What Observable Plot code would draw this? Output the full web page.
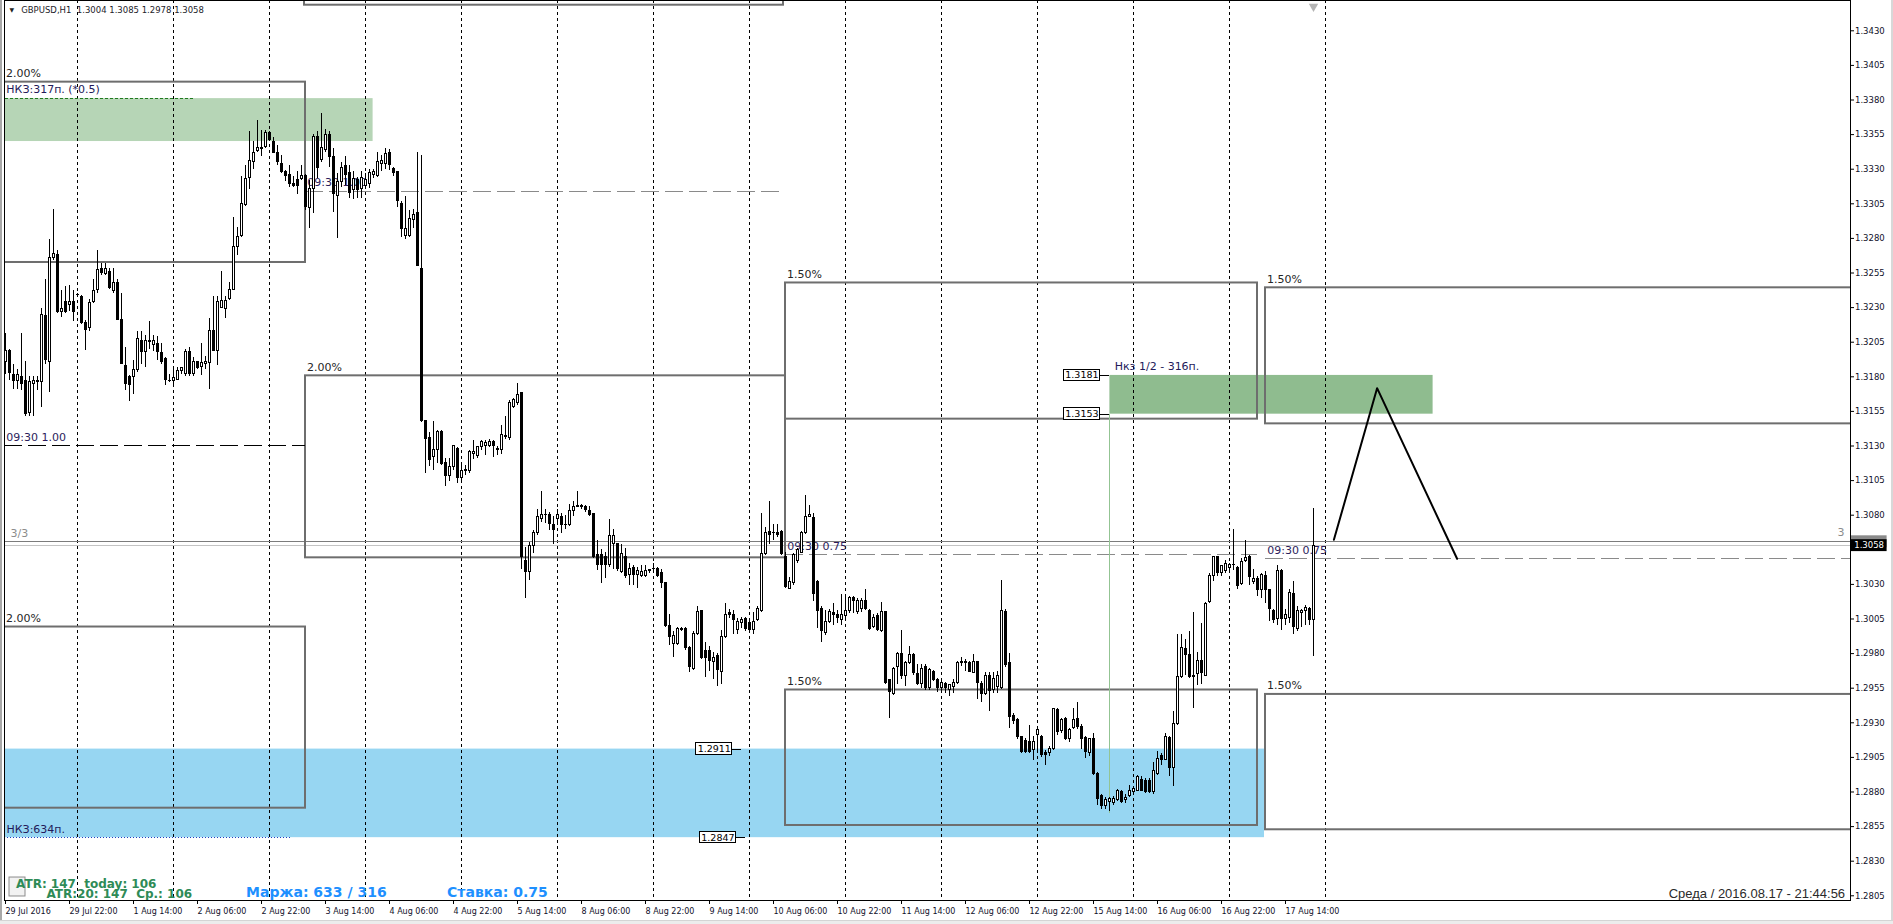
<!DOCTYPE html>
<html><head><meta charset="utf-8">
<script src="https://cdn.jsdelivr.net/npm/d3@7"></script>
<script src="https://cdn.jsdelivr.net/npm/@observablehq/plot@0.6"></script>
<style>
html,body{margin:0;padding:0;background:#fff;overflow:hidden}
#chart svg{display:block}
#edgeL{position:absolute;left:0;top:0;width:2px;height:920px;background:#a8a8a8}
#edgeR{position:absolute;right:0;top:0;width:2px;height:920px;background:#d8d8d8}
#strip{height:4px;background:#ececec;border-top:1px solid #d4d4d4}
</style>
</head><body>
<div id="chart"></div><div id="strip"></div><div id="edgeL"></div><div id="edgeR"></div>
<script>
// ---- GBPUSD H1 candles (bar 0 = 29 Jul 2016 06:00) ----
const opens = [
1.3191,1.3199,1.3181,1.3177,1.3180,1.3177,1.3154,1.3175,1.3176,1.3176,
1.3224,1.3191,1.3266,1.3268,1.3227,1.3234,1.3232,1.3234,1.3239,1.3238,
1.3219,1.3215,1.3234,1.3243,1.3258,1.3254,1.3256,1.3242,1.3248,1.3221,
1.3188,1.3180,1.3180,1.3185,1.3206,1.3198,1.3206,1.3203,1.3204,1.3197,
1.3193,1.3177,1.3177,1.3178,1.3184,1.3182,1.3198,1.3182,1.3191,1.3187,
1.3189,1.3190,1.3213,1.3199,1.3230,1.3229,1.3236,1.3243,1.3274,1.3282,
1.3304,1.3324,1.3335,1.3343,1.3345,1.3346,1.3356,1.3350,1.3342,1.3334,
1.3328,1.3326,1.3319,1.3322,1.3323,1.3325,1.3302,1.3316,1.3353,1.3337,
1.3344,1.3355,1.3339,1.3311,1.3321,1.3332,1.3327,1.3315,1.3322,1.3316,
1.3318,1.3319,1.3326,1.3325,1.3334,1.3334,1.3342,1.3330,1.3328,1.3305,
1.3282,1.3282,1.3293,1.3298,1.3258,1.3148,1.3136,1.3122,1.3127,1.3140,
1.3118,1.3108,1.3115,1.3128,1.3107,1.3112,1.3112,1.3124,1.3123,1.3129,
1.3130,1.3130,1.3133,1.3128,1.3127,1.3137,1.3136,1.3158,1.3161,1.3168,
1.3047,1.3039,1.3058,1.3067,1.3077,1.3080,1.3080,1.3073,1.3077,1.3079,
1.3073,1.3073,1.3083,1.3086,1.3087,1.3086,1.3083,1.3081,1.3051,1.3051,
1.3050,1.3044,1.3059,1.3059,1.3039,1.3050,1.3037,1.3042,1.3037,1.3036,
1.3036,1.3040,1.3041,1.3041,1.3038,1.3031,1.3000,1.2987,1.2987,1.2998,
1.2998,1.2984,1.2969,1.2994,1.3011,1.2982,1.2982,1.2974,1.2978,1.2967,
1.2992,1.3009,1.3008,1.2997,1.3002,1.3005,1.3002,1.2997,1.3004,1.3011,
1.3052,1.3068,1.3067,1.3067,1.3068,1.3050,1.3027,1.3031,1.3047,1.3053,
1.3067,1.3079,1.3078,1.3032,1.3012,1.2995,1.3003,1.3009,1.3008,1.3004,
1.3007,1.3011,1.3020,1.3010,1.3012,1.3018,1.3011,1.2999,1.3007,1.2996,
1.3010,1.2961,1.2951,1.2970,1.2980,1.2964,1.2973,1.2979,1.2965,1.2958,
1.2970,1.2955,1.2967,1.2961,1.2955,1.2958,1.2954,1.2956,1.2959,1.2973,
1.2973,1.2973,1.2966,1.2974,1.2958,1.2951,1.2964,1.2954,1.2956,1.2955,
1.3010,1.2973,1.2935,1.2932,1.2920,1.2917,1.2916,1.2910,1.2921,1.2920,
1.2908,1.2908,1.2911,1.2939,1.2924,1.2933,1.2918,1.2926,1.2933,1.2927,
1.2919,1.2908,1.2918,1.2893,1.2877,1.2870,1.2873,1.2872,1.2874,1.2880,
1.2874,1.2877,1.2880,1.2881,1.2889,1.2888,1.2888,1.2880,1.2893,1.2906,
1.2903,1.2919,1.2897,1.2929,1.2963,1.2983,1.2979,1.2963,1.2965,1.2975,
1.2964,1.3017,1.3036,1.3050,1.3038,1.3040,1.3042,1.3044,1.3042,1.3030,
1.3047,1.3050,1.3032,1.3034,1.3026,1.3036,1.3026,1.3011,1.3005,1.3040,
1.3005,1.3006,1.3023,1.2998,1.3009,1.3011,1.3012,1.3004];
const highs = [
1.3211,1.3200,1.3189,1.3185,1.3211,1.3191,1.3180,1.3180,1.3180,1.3229,
1.3250,1.3279,1.3301,1.3271,1.3242,1.3245,1.3246,1.3242,1.3240,1.3239,
1.3221,1.3236,1.3250,1.3271,1.3262,1.3262,1.3258,1.3258,1.3250,1.3240,
1.3201,1.3181,1.3192,1.3213,1.3213,1.3210,1.3220,1.3210,1.3209,1.3204,
1.3194,1.3182,1.3185,1.3187,1.3187,1.3200,1.3201,1.3194,1.3191,1.3204,
1.3195,1.3222,1.3238,1.3238,1.3256,1.3238,1.3248,1.3295,1.3288,1.3325,
1.3333,1.3357,1.3350,1.3365,1.3358,1.3358,1.3357,1.3353,1.3347,1.3340,
1.3329,1.3333,1.3325,1.3328,1.3333,1.3326,1.3322,1.3355,1.3357,1.3370,
1.3359,1.3357,1.3345,1.3327,1.3335,1.3339,1.3333,1.3328,1.3324,1.3328,
1.3327,1.3330,1.3330,1.3342,1.3340,1.3345,1.3344,1.3331,1.3328,1.3307,
1.3310,1.3300,1.3301,1.3342,1.3340,1.3148,1.3140,1.3148,1.3141,1.3141,
1.3121,1.3121,1.3130,1.3129,1.3117,1.3116,1.3127,1.3134,1.3130,1.3134,
1.3134,1.3135,1.3134,1.3130,1.3145,1.3151,1.3163,1.3164,1.3175,1.3168,
1.3057,1.3060,1.3069,1.3084,1.3097,1.3084,1.3082,1.3079,1.3084,1.3081,
1.3080,1.3088,1.3090,1.3097,1.3088,1.3087,1.3086,1.3081,1.3062,1.3055,
1.3053,1.3077,1.3070,1.3059,1.3059,1.3056,1.3045,1.3044,1.3042,1.3044,
1.3044,1.3041,1.3045,1.3042,1.3041,1.3031,1.3008,1.2996,1.2999,1.2999,
1.2999,1.2985,1.2996,1.3014,1.3011,1.2988,1.2985,1.2981,1.2980,1.2997,
1.3016,1.3012,1.3011,1.3005,1.3006,1.3006,1.3005,1.3010,1.3014,1.3081,
1.3071,1.3090,1.3073,1.3073,1.3069,1.3053,1.3035,1.3052,1.3056,1.3068,
1.3094,1.3087,1.3081,1.3033,1.3014,1.3011,1.3012,1.3016,1.3011,1.3023,
1.3023,1.3021,1.3021,1.3020,1.3020,1.3026,1.3012,1.3008,1.3009,1.3017,
1.3010,1.2961,1.2970,1.2981,1.2997,1.2974,1.2985,1.2980,1.2972,1.2972,
1.2972,1.2969,1.2968,1.2962,1.2960,1.2959,1.2957,1.2961,1.2974,1.2977,
1.2976,1.2974,1.2979,1.2974,1.2960,1.2966,1.2966,1.2966,1.2967,1.3033,
1.3012,1.2980,1.2937,1.2933,1.2920,1.2919,1.2928,1.2920,1.2925,1.2921,
1.2910,1.2913,1.2940,1.2940,1.2933,1.2934,1.2926,1.2940,1.2945,1.2929,
1.2920,1.2919,1.2922,1.2894,1.2878,1.2876,1.2876,1.2877,1.2882,1.2881,
1.2878,1.2885,1.2884,1.2892,1.2891,1.2890,1.2890,1.2901,1.2909,1.2908,
1.2922,1.2920,1.2938,1.2994,1.2994,1.2990,1.2996,1.3010,1.2981,1.3002,
1.3017,1.3038,1.3050,1.3050,1.3044,1.3047,1.3045,1.3070,1.3043,1.3049,
1.3062,1.3051,1.3041,1.3036,1.3038,1.3039,1.3026,1.3012,1.3044,1.3041,
1.3012,1.3026,1.3032,1.3014,1.3012,1.3015,1.3013,1.3085];
const lows = [
1.3182,1.3177,1.3171,1.3171,1.3170,1.3151,1.3151,1.3151,1.3170,1.3158,
1.3189,1.3169,1.3264,1.3226,1.3223,1.3226,1.3227,1.3220,1.3237,1.3218,
1.3199,1.3213,1.3233,1.3240,1.3253,1.3253,1.3243,1.3240,1.3221,1.3189,
1.3170,1.3162,1.3167,1.3183,1.3189,1.3187,1.3200,1.3198,1.3192,1.3189,
1.3174,1.3176,1.3173,1.3177,1.3182,1.3180,1.3180,1.3180,1.3185,1.3181,
1.3185,1.3171,1.3198,1.3188,1.3229,1.3222,1.3235,1.3242,1.3268,1.3281,
1.3303,1.3315,1.3330,1.3342,1.3339,1.3345,1.3351,1.3341,1.3333,1.3327,
1.3321,1.3317,1.3317,1.3312,1.3322,1.3300,1.3287,1.3298,1.3323,1.3335,
1.3342,1.3331,1.3299,1.3280,1.3317,1.3318,1.3309,1.3308,1.3309,1.3309,
1.3317,1.3316,1.3323,1.3324,1.3328,1.3330,1.3329,1.3325,1.3302,1.3281,
1.3279,1.3281,1.3287,1.3260,1.3147,1.3110,1.3115,1.3112,1.3117,1.3116,
1.3101,1.3104,1.3112,1.3103,1.3103,1.3109,1.3110,1.3120,1.3121,1.3127,
1.3123,1.3129,1.3122,1.3123,1.3124,1.3135,1.3134,1.3157,1.3159,1.3041,
1.3020,1.3033,1.3052,1.3065,1.3075,1.3074,1.3069,1.3059,1.3074,1.3067,
1.3070,1.3072,1.3079,1.3086,1.3084,1.3082,1.3079,1.3049,1.3040,1.3031,
1.3034,1.3042,1.3041,1.3039,1.3038,1.3034,1.3029,1.3029,1.3027,1.3035,
1.3035,1.3038,1.3040,1.3035,1.3027,1.2999,1.2986,1.2977,1.2986,1.2996,
1.2982,1.2966,1.2968,1.2993,1.2976,1.2963,1.2967,1.2961,1.2956,1.2958,
1.2991,1.3005,1.2994,1.2994,1.2998,1.2996,1.2996,1.2994,1.3003,1.3010,
1.3051,1.3059,1.3062,1.3064,1.3051,1.3027,1.3026,1.3029,1.3045,1.3052,
1.3066,1.3078,1.3018,1.2998,1.2988,1.2993,1.3002,1.3000,1.3002,1.3000,
1.3003,1.3009,1.3009,1.3008,1.3010,1.3011,1.2997,1.2998,1.2996,1.2995,
1.2958,1.2933,1.2950,1.2958,1.2961,1.2956,1.2972,1.2964,1.2957,1.2955,
1.2953,1.2953,1.2960,1.2952,1.2951,1.2951,1.2949,1.2951,1.2958,1.2971,
1.2967,1.2966,1.2966,1.2947,1.2945,1.2950,1.2938,1.2951,1.2951,1.2954,
1.2970,1.2926,1.2929,1.2918,1.2908,1.2908,1.2908,1.2903,1.2908,1.2905,
1.2899,1.2906,1.2910,1.2921,1.2922,1.2917,1.2916,1.2925,1.2925,1.2911,
1.2904,1.2906,1.2892,1.2870,1.2867,1.2867,1.2866,1.2870,1.2873,1.2872,
1.2872,1.2876,1.2879,1.2880,1.2880,1.2879,1.2879,1.2878,1.2892,1.2899,
1.2903,1.2891,1.2884,1.2928,1.2962,1.2964,1.2962,1.2940,1.2957,1.2958,
1.2964,1.3016,1.3032,1.3036,1.3036,1.3038,1.3040,1.3040,1.3026,1.3029,
1.3046,1.3029,1.3030,1.3021,1.3020,1.3016,1.3003,1.3002,1.3000,1.2997,
1.3000,1.3002,1.2994,1.2996,1.2999,1.3000,1.3000,1.2978];
const closes = [
1.3199,1.3183,1.3177,1.3181,1.3175,1.3153,1.3176,1.3177,1.3177,1.3225,
1.3192,1.3266,1.3269,1.3227,1.3229,1.3227,1.3234,1.3227,1.3239,1.3219,
1.3214,1.3233,1.3242,1.3257,1.3255,1.3258,1.3244,1.3248,1.3221,1.3189,
1.3175,1.3174,1.3185,1.3207,1.3198,1.3206,1.3205,1.3206,1.3198,1.3191,
1.3178,1.3177,1.3179,1.3184,1.3186,1.3198,1.3182,1.3191,1.3186,1.3190,
1.3191,1.3213,1.3199,1.3234,1.3235,1.3235,1.3243,1.3274,1.3281,1.3305,
1.3323,1.3336,1.3342,1.3345,1.3345,1.3356,1.3351,1.3342,1.3335,1.3328,
1.3325,1.3319,1.3318,1.3318,1.3325,1.3303,1.3316,1.3353,1.3331,1.3345,
1.3355,1.3339,1.3312,1.3321,1.3331,1.3326,1.3313,1.3323,1.3315,1.3324,
1.3322,1.3327,1.3328,1.3335,1.3336,1.3341,1.3333,1.3327,1.3307,1.3287,
1.3287,1.3294,1.3297,1.3260,1.3148,1.3135,1.3120,1.3127,1.3140,1.3117,
1.3108,1.3115,1.3130,1.3107,1.3112,1.3113,1.3126,1.3126,1.3129,1.3133,
1.3132,1.3133,1.3130,1.3127,1.3138,1.3137,1.3161,1.3163,1.3167,1.3050,
1.3039,1.3058,1.3067,1.3079,1.3080,1.3080,1.3074,1.3069,1.3080,1.3073,
1.3073,1.3083,1.3086,1.3087,1.3086,1.3084,1.3080,1.3050,1.3044,1.3044,
1.3044,1.3065,1.3065,1.3041,1.3052,1.3036,1.3041,1.3037,1.3040,1.3039,
1.3040,1.3040,1.3041,1.3036,1.3031,1.3000,1.2992,1.2993,1.2998,1.2997,
1.2984,1.2970,1.2994,1.3010,1.2977,1.2977,1.2975,1.2977,1.2968,1.2992,
1.3008,1.3008,1.3004,1.3003,1.3004,1.2998,1.2997,1.3003,1.3012,1.3052,
1.3067,1.3066,1.3067,1.3066,1.3052,1.3028,1.3032,1.3051,1.3055,1.3067,
1.3079,1.3080,1.3023,1.3011,1.2996,1.3003,1.3010,1.3008,1.3006,1.3008,
1.3011,1.3020,1.3018,1.3018,1.3018,1.3012,1.2998,1.3006,1.2997,1.3010,
1.2959,1.2952,1.2969,1.2980,1.2964,1.2973,1.2979,1.2966,1.2958,1.2969,
1.2955,1.2968,1.2961,1.2955,1.2959,1.2955,1.2957,1.2959,1.2973,1.2974,
1.2974,1.2967,1.2974,1.2959,1.2951,1.2964,1.2953,1.2962,1.2964,1.3011,
1.2972,1.2934,1.2931,1.2920,1.2909,1.2909,1.2909,1.2916,1.2925,1.2907,
1.2907,1.2911,1.2940,1.2923,1.2932,1.2918,1.2925,1.2932,1.2927,1.2918,
1.2909,1.2918,1.2893,1.2875,1.2870,1.2874,1.2875,1.2875,1.2881,1.2873,
1.2876,1.2881,1.2882,1.2891,1.2881,1.2880,1.2880,1.2895,1.2904,1.2903,
1.2920,1.2897,1.2929,1.2963,1.2984,1.2979,1.2963,1.2964,1.2975,1.2966,
1.3016,1.3036,1.3050,1.3038,1.3043,1.3045,1.3044,1.3044,1.3029,1.3046,
1.3049,1.3035,1.3034,1.3026,1.3037,1.3026,1.3012,1.3004,1.3040,1.3005,
1.3008,1.3024,1.2999,1.3011,1.3011,1.3013,1.3004,1.3058];

// time axis
const timeTickIdx = [0,16,32,48,64,80,96,112,128,144,160,176,192,208,224,240,256,272,288,304,320];
const timeLabels = ["29 Jul 2016","29 Jul 22:00","1 Aug 14:00","2 Aug 06:00","2 Aug 22:00","3 Aug 14:00","4 Aug 06:00","4 Aug 22:00","5 Aug 14:00","8 Aug 06:00","8 Aug 22:00","9 Aug 14:00","10 Aug 06:00","10 Aug 22:00","11 Aug 14:00","12 Aug 06:00","12 Aug 22:00","15 Aug 14:00","16 Aug 06:00","16 Aug 22:00","17 Aug 14:00"];
const daySeparators = [18,42,66,90,114,138,162,186,210,234,258,282,306,330];
// price axis (1.3055 sits under the current-price tag)
const priceTicks = [1.2805,1.2830,1.2855,1.2880,1.2905,1.2930,1.2955,1.2980,1.3005,1.3030,1.3055,1.3080,1.3105,1.3130,1.3155,1.3180,1.3205,1.3230,1.3255,1.3280,1.3305,1.3330,1.3355,1.3380,1.3405,1.3430];
const hiddenTick = 1.3055;
const priceDomain = [1.28016, 1.34519];
const barDomain = [-0.25, 461.25];

// session boxes (bar index / price)
const boxLabel = ["2.00%","2.00%","2.00%","1.50%","1.50%","1.50%","1.50%",""];
const boxStart = [-3, -3, 75, 195, 195, 315, 315, 74.75];
const boxEnd   = [75, 75, 195, 313, 313, 470, 470, 194.5];
const boxHigh  = [1.33929, 1.29992, 1.31807, 1.32478, 1.29537, 1.32443, 1.29505, 1.3480];
const boxLow   = [1.32626, 1.28683, 1.30492, 1.31494, 1.28558, 1.31460, 1.28527, 1.34485];

// zones
const zoneStart = [-3, 276.1, -3];
const zoneEnd   = [91.9, 356.9, 314.75];
const zoneHigh  = [1.3381, 1.3181, 1.2911];
const zoneLow   = [1.3350, 1.3153, 1.2847];

// 09:30 levels
const levelLabel = ["09:30 1.00","09:30 1.00","09:30 0.75","09:30 0.75"];
const levelPrice = [1.31301, 1.33139, 1.30514, 1.30485];
const levelStart = [-0.25, 75, 195, 315];
const levelEnd   = [75, 194, 313, 461.25];

// price tags
const tagPrice = [1.3181, 1.3153, 1.2911, 1.2847];
const tagRight = [273.6, 273.6, 181.7, 182.6];
const tagEnd   = [276.1, 276.1, 184.1, 185.0];

// projected zigzag
const zigIdx = [332.1, 342.9, 362.9];
const zigPrice = [1.30622, 1.31718, 1.30485];

const levelTop = 1.30608, bid = 1.3058;

const n = Math.min(opens.length, highs.length, lows.length, closes.length);
const bars = d3.range(n).map(i => ({i, o: opens[i], h: highs[i], l: lows[i], c: closes[i]}));
const bodyLo = d => { const a = Math.min(d.o, d.c), b = Math.max(d.o, d.c); return b - a < 0.00004 ? a - 0.00002 : a; };
const bodyHi = d => { const a = Math.min(d.o, d.c), b = Math.max(d.o, d.c); return b - a < 0.00004 ? a + 0.00002 : b; };
const up = bars.filter(d => d.c >= d.o), down = bars.filter(d => d.c < d.o);

const F = "'DejaVu Sans', sans-serif";
const objText = {fontFamily: F, fontSize: 11, lineAnchor: "bottom", textAnchor: "start"};
const zoneMark = (k, color) => Plot.rect([k], {x1: zoneStart[k], x2: zoneEnd[k], y1: zoneLow[k], y2: zoneHigh[k], fill: color, clip: true});
const boxIdx = boxLabel.map((_, k) => k);
const lvlGrey = [1, 2, 3];
const tagIdx = tagPrice.map((_, k) => k);

const chart = Plot.plot({
  width: 1893, height: 920,
  marginTop: 0, marginLeft: 4, marginRight: 43, marginBottom: 20,
  style: {fontFamily: F, fontSize: "8px", background: "white", color: "black", overflow: "visible"},
  x: {type: "linear", domain: barDomain},
  y: {type: "linear", domain: priceDomain},
  marks: [
    zoneMark(2, "#97d6f2"),
    zoneMark(0, "#b6d5b6"),
    zoneMark(1, "#8fbc8f"),
    Plot.ruleX(daySeparators, {x: d => d, stroke: "black", strokeDasharray: "3,3", shapeRendering: "crispEdges"}),
    Plot.ruleY([levelTop], {stroke: "#7c7c7c", shapeRendering: "crispEdges"}),
    Plot.ruleY([bid], {stroke: "#c4c4c4", shapeRendering: "crispEdges"}),
    Plot.text(["3/3"], {x: 1.25, y: levelTop, text: d => d, dy: -5, fill: "#8c8c8c", ...objText}),
    Plot.text(["3"], {x: 459.75, y: levelTop, text: d => d, dy: -6, fill: "#8c8c8c", ...objText, textAnchor: "end"}),
    // session boxes
    Plot.rect(boxIdx, {x1: k => boxStart[k], x2: k => boxEnd[k], y1: k => boxLow[k], y2: k => boxHigh[k], fill: "none", stroke: "#6e6e6e", strokeWidth: 2, clip: true}),
    Plot.text(boxIdx.slice(0, 7), {x: k => Math.max(boxStart[k], -0.25) + 0.4, y: k => boxHigh[k], text: k => boxLabel[k], dy: -5, fill: "#262626", ...objText}),
    // 09:30 levels
    Plot.ruleY([0], {y: levelPrice[0], x1: levelStart[0], x2: levelEnd[0], stroke: "black", strokeDasharray: "18,6", shapeRendering: "crispEdges"}),
    Plot.ruleY(lvlGrey, {y: k => levelPrice[k], x1: k => levelStart[k], x2: k => levelEnd[k], stroke: "#8a8a8a", strokeDasharray: "18,6", shapeRendering: "crispEdges"}),
    Plot.text([0, 1, 2, 3], {x: k => levelStart[k] + 0.45, y: k => levelPrice[k], text: k => levelLabel[k], dy: -5, fill: "#2c1d5c", ...objText}),
    // zone annotations
    Plot.ruleY([zoneHigh[0]], {x1: 0, x2: 47.5, stroke: "#1f7a1f", strokeDasharray: "3,2", shapeRendering: "crispEdges"}),
    Plot.text(["НКЗ:317п. (*0.5)"], {x: 0.2, y: zoneHigh[0], text: d => d, dy: -5.5, fill: "#231a5a", ...objText}),
    Plot.ruleY([zoneLow[2]], {x1: -0.25, x2: 71.25, stroke: "#2040c0", strokeDasharray: "1,2", shapeRendering: "crispEdges"}),
    Plot.text(["НКЗ:634п."], {x: 0.25, y: zoneLow[2], text: d => d, dy: -4.5, fill: "#231a5a", ...objText}),
    Plot.text(["Нкз 1/2 - 316п."], {x: 277.3, y: zoneHigh[1], text: d => d, dy: -5, fill: "#231a5a", ...objText}),
    Plot.ruleX([zoneStart[1]], {y1: 1.28645, y2: zoneLow[1], stroke: "#93c493", shapeRendering: "crispEdges"}),
    // price tags
    Plot.ruleY(tagIdx, {y: k => tagPrice[k], x1: k => tagRight[k], x2: k => tagEnd[k], stroke: "black", shapeRendering: "crispEdges"}),
    Plot.rect(tagIdx, {x1: k => tagRight[k] - 9, x2: k => tagRight[k], y1: k => tagPrice[k] - 0.00041, y2: k => tagPrice[k] + 0.00041, fill: "white", stroke: "black", shapeRendering: "crispEdges"}),
    Plot.text(tagIdx, {x: k => tagRight[k] - 4.5, y: k => tagPrice[k], text: k => tagPrice[k].toFixed(4), fontFamily: F, fontSize: 9.5, fill: "black"}),
    // zigzag projection
    Plot.line(zigIdx.map((x, k) => [x, zigPrice[k]]), {x: d => d[0], y: d => d[1], stroke: "black", strokeWidth: 2}),
    // chart shift marker
    Plot.dot([0], {x: n - 1, y: 1.34475, symbol: "triangle", rotate: 180, r: 3.5, fill: "#b4b4b4", stroke: "none"}),
    // candles
    Plot.ruleX(bars, {x: "i", y1: "l", y2: "h", stroke: "black", shapeRendering: "crispEdges"}),
    Plot.rect(up, {x1: d => d.i - 0.25, x2: d => d.i + 0.25, y1: bodyLo, y2: bodyHi, fill: "white", stroke: "black", shapeRendering: "crispEdges"}),
    Plot.rect(down, {x1: d => d.i - 0.25, x2: d => d.i + 0.25, y1: bodyLo, y2: bodyHi, fill: "black", stroke: "black", shapeRendering: "crispEdges"}),
    // header
    Plot.text(["▼"], {frameAnchor: "top-left", text: d => d, dx: 5, dy: 11, fontSize: 6, fill: "#222", textAnchor: "start", lineAnchor: "bottom"}),
    Plot.text(["GBPUSD,H1  1.3004 1.3085 1.2978 1.3058"], {frameAnchor: "top-left", text: d => d.replace(/  /g, "\u00a0\u00a0"), dx: 16.7, dy: 12.7, fontFamily: F, fontSize: 8.5, fill: "#1c1c2a", textAnchor: "start", lineAnchor: "bottom"}),
    // bottom info
    Plot.rect([0], {x1: 1, x2: 5, y1: 1.28045, y2: 1.28182, fill: "#f2f2f2", stroke: "#8c8c8c"}),
    Plot.text(["ATR: 147  today: 106"], {frameAnchor: "bottom-left", text: d => d.replace(/  /g, "\u00a0\u00a0"), dx: 11.6, dy: -12.5, fontFamily: F, fontSize: 12, fontWeight: "bold", fill: "#2e8b57", textAnchor: "start", lineAnchor: "bottom"}),
    Plot.text(["ATR:20: 147  Ср.: 106"], {frameAnchor: "bottom-left", text: d => d.replace(/  /g, "\u00a0\u00a0"), dx: 42, dy: -3, fontFamily: F, fontSize: 12, fontWeight: "bold", fill: "#2e8b57", textAnchor: "start", lineAnchor: "bottom"}),
    Plot.text(["Маржа: 633 / 316"], {frameAnchor: "bottom-left", text: d => d, dx: 241.6, dy: -3.5, fontFamily: F, fontSize: 14, fontWeight: "bold", fill: "#1e90ff", textAnchor: "start", lineAnchor: "bottom"}),
    Plot.text(["Ставка: 0.75"], {frameAnchor: "bottom-left", text: d => d, dx: 442.6, dy: -3.5, fontFamily: F, fontSize: 14, fontWeight: "bold", fill: "#1e90ff", textAnchor: "start", lineAnchor: "bottom"}),
    Plot.text(["Среда / 2016.08.17 - 21:44:56"], {frameAnchor: "bottom-right", text: d => d, dx: -5.4, dy: -3, fontFamily: "'Liberation Sans', Arial, sans-serif", fontSize: 13, fill: "#2a2a2a", textAnchor: "end", lineAnchor: "bottom"}),
    Plot.frame({stroke: "black", shapeRendering: "crispEdges"}),
    // axes
    Plot.axisY({anchor: "right", ticks: priceTicks, tickFormat: d => (Math.abs(d - hiddenTick) < 1e-6 ? "" : d.toFixed(4)), tickSize: 3, tickPadding: 1.5, fontSize: 8.5, label: null, fill: "#10102a"}),
    Plot.axisX({anchor: "bottom", ticks: timeTickIdx, tickFormat: d => timeLabels[timeTickIdx.indexOf(d)], tickSize: 4, tickPadding: 3.5, textAnchor: "start", fontSize: 8, label: null, fill: "#10102a"}),
    // current price labels on the axis
    Plot.rect([0], {x1: 461.5, x2: 470.4, y1: levelTop - 0.00043, y2: levelTop + 0.00043, fill: "#8a8a8a"}),
    Plot.rect([0], {x1: 461.5, x2: 470.4, y1: bid - 0.00043, y2: bid + 0.00043, fill: "black"}),
    Plot.text(["1.3058"], {x: 465.9, y: bid, text: d => d, fontFamily: F, fontSize: 8.5, fill: "white"})
  ]
});
document.getElementById("chart").appendChild(chart);
</script>
</body></html>
